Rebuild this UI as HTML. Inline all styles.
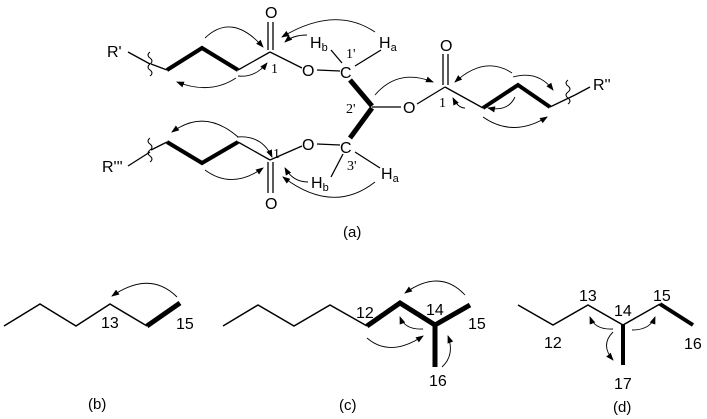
<!DOCTYPE html>
<html><head><meta charset="utf-8"><style>
html,body{margin:0;padding:0;background:#fff;}
svg{display:block;}
text{font-family:"Liberation Sans",sans-serif;fill:#000;}
.s{font-family:"Liberation Serif",serif;}
</style></head><body>
<svg width="707" height="419" viewBox="0 0 707 419" xmlns="http://www.w3.org/2000/svg">
<defs><marker id="a" markerWidth="8" markerHeight="8" refX="7" refY="4" orient="auto" markerUnits="userSpaceOnUse"><path d="M0,1 L8,4 L0,7 Z" fill="#000"/></marker></defs>
<g fill="none" stroke="#000" stroke-linecap="butt" stroke-linejoin="miter">
<line x1="128" y1="52" x2="150" y2="64" stroke-width="1.3"/>
<path d="M150,52 q-4,3 0,6 q4,3 0,6 q-4,3 0,6 q4,3 0,6" stroke-width="1"/>
<line x1="151" y1="64" x2="167" y2="70" stroke-width="1.3"/>
<polyline points="167,70 202,48 238,70" stroke-width="4"/>
<line x1="238" y1="70" x2="270" y2="52" stroke-width="1.3"/>
<line x1="268" y1="50" x2="268" y2="22" stroke-width="1.3"/>
<line x1="273" y1="50" x2="273" y2="22" stroke-width="1.3"/>
<line x1="270" y1="52" x2="302" y2="68" stroke-width="1.3"/>
<line x1="317" y1="70" x2="340" y2="71" stroke-width="1.3"/>
<line x1="331" y1="50" x2="342" y2="63" stroke-width="1.3"/>
<line x1="381" y1="50" x2="355" y2="66" stroke-width="1.3"/>
<line x1="350" y1="80" x2="372" y2="106" stroke-width="5"/>
<line x1="372" y1="108" x2="350" y2="138" stroke-width="5"/>
<line x1="128" y1="166" x2="150" y2="152" stroke-width="1.3"/>
<path d="M150,138 q-4,3 0,6 q4,3 0,6 q-4,3 0,6 q4,3 0,6" stroke-width="1"/>
<line x1="151" y1="150" x2="167" y2="142" stroke-width="1.3"/>
<polyline points="167,142 202,163 238,142" stroke-width="4"/>
<line x1="238" y1="142" x2="270" y2="160" stroke-width="1.3"/>
<line x1="268" y1="162" x2="268" y2="193" stroke-width="1.3"/>
<line x1="273" y1="162" x2="273" y2="193" stroke-width="1.3"/>
<line x1="270" y1="160" x2="302" y2="146" stroke-width="1.3"/>
<line x1="317" y1="144" x2="340" y2="145" stroke-width="1.3"/>
<line x1="331" y1="177" x2="343" y2="154" stroke-width="1.3"/>
<line x1="380" y1="168" x2="355" y2="152" stroke-width="1.3"/>
<line x1="372" y1="107" x2="401" y2="107" stroke-width="1.3"/>
<line x1="417" y1="104" x2="445" y2="87" stroke-width="1.3"/>
<line x1="443" y1="85" x2="443" y2="54" stroke-width="1.3"/>
<line x1="448" y1="85" x2="448" y2="54" stroke-width="1.3"/>
<line x1="445" y1="87" x2="483" y2="108" stroke-width="1.3"/>
<polyline points="483,108 518,85 550,107" stroke-width="4"/>
<line x1="550" y1="107" x2="575" y2="95" stroke-width="1.3"/>
<path d="M568,80 q-4,3 0,6 q4,3 0,6 q-4,3 0,6 q4,3 0,6" stroke-width="1"/>
<line x1="575" y1="95" x2="590" y2="87" stroke-width="1.3"/>
<g stroke-width="0.9" marker-end="url(#a)">
<path d="M205,38 Q232,12 263,47"/>
<path d="M238,76 Q255,78 267,63"/>
<path d="M236,78 Q210,95 177,82"/>
<path d="M375,32 Q335,5 282,37"/>
<path d="M307,35 Q293,35 285,42"/>
<path d="M238,137 Q205,108 172,132"/>
<path d="M237,137 Q262,135 272,157"/>
<path d="M205,170 Q232,190 263,168"/>
<path d="M308,182 Q293,182 285,168"/>
<path d="M375,182 Q333,215 283,177"/>
<path d="M375,95 Q398,68 433,82"/>
<path d="M512,73 Q485,55 455,82"/>
<path d="M513,77 Q538,70 553,90"/>
<path d="M515,97 Q508,112 488,108"/>
<path d="M465,108 Q458,108 453,98"/>
<path d="M483,117 Q513,138 547,117"/>
</g>
<polyline points="4,326 40,304 76,326 110,304 147,326" stroke-width="1.5"/>
<line x1="147" y1="326" x2="180" y2="303" stroke-width="5"/>
<path d="M177,297 Q150,270 112,296" stroke-width="0.9" marker-end="url(#a)"/>
<polyline points="223,326 258,305 294,326 330,305 367,326" stroke-width="1.5"/>
<polyline points="367,326 400,303 435,325 470,305" stroke-width="5"/>
<line x1="435" y1="325" x2="435" y2="367" stroke-width="5"/>
<g stroke-width="0.9" marker-end="url(#a)">
<path d="M465,295 Q440,268 405,293"/>
<path d="M423,329 Q405,330 400,317"/>
<path d="M367,338 Q390,358 423,336"/>
<path d="M442,367 Q455,355 448,336"/>
</g>
<polyline points="518,305 553,325 588,305 623,325 660,304" stroke-width="1.5"/>
<line x1="660" y1="304" x2="693" y2="325" stroke-width="4"/>
<line x1="623" y1="325" x2="623" y2="365" stroke-width="4"/>
<g stroke-width="0.9" marker-end="url(#a)">
<path d="M613,329 Q595,330 590,317"/>
<path d="M632,330 Q650,330 655,317"/>
<path d="M613,332 Q600,345 613,360"/>
</g>
</g>
<g font-size="16">
<text x="107" y="57">R'</text>
<text x="102" y="172">R'''</text>
<text x="593" y="90">R''</text>
<text x="265" y="18">O</text>
<text x="265" y="209">O</text>
<text x="440" y="51">O</text>
<text x="302" y="76">O</text>
<text x="302" y="150">O</text>
<text x="403" y="113">O</text>
<text x="340" y="78">C</text>
<text x="340" y="153">C</text>
<text x="310" y="48">H<tspan font-size="11" dy="3">b</tspan></text>
<text x="379" y="48">H<tspan font-size="11" dy="3">a</tspan></text>
<text x="311" y="188">H<tspan font-size="11" dy="3">b</tspan></text>
<text x="381" y="179">H<tspan font-size="11" dy="3">a</tspan></text>
</g>
<g font-size="14">
<text x="271" y="73" class="s">1</text>
<text x="273" y="158" class="s">1</text>
<text x="439" y="107" class="s">1</text>
<text x="346" y="58" class="s">1'</text>
<text x="346" y="113" class="s">2'</text>
<text x="347" y="170" class="s">3'</text>
</g>
<g font-size="15">
<text x="343" y="237">(a)</text>
<text x="88" y="409">(b)</text>
<text x="339" y="410">(c)</text>
<text x="613" y="412">(d)</text>
</g>
<g font-size="16">
<text x="101" y="328">13</text>
<text x="176" y="329">15</text>
<text x="356" y="318">12</text>
<text x="426" y="315">14</text>
<text x="468" y="329">15</text>
<text x="429" y="386">16</text>
<text x="579" y="301">13</text>
<text x="614" y="316">14</text>
<text x="653" y="301">15</text>
<text x="544" y="348">12</text>
<text x="684" y="349">16</text>
<text x="614" y="389">17</text>
</g>
</svg>
</body></html>
